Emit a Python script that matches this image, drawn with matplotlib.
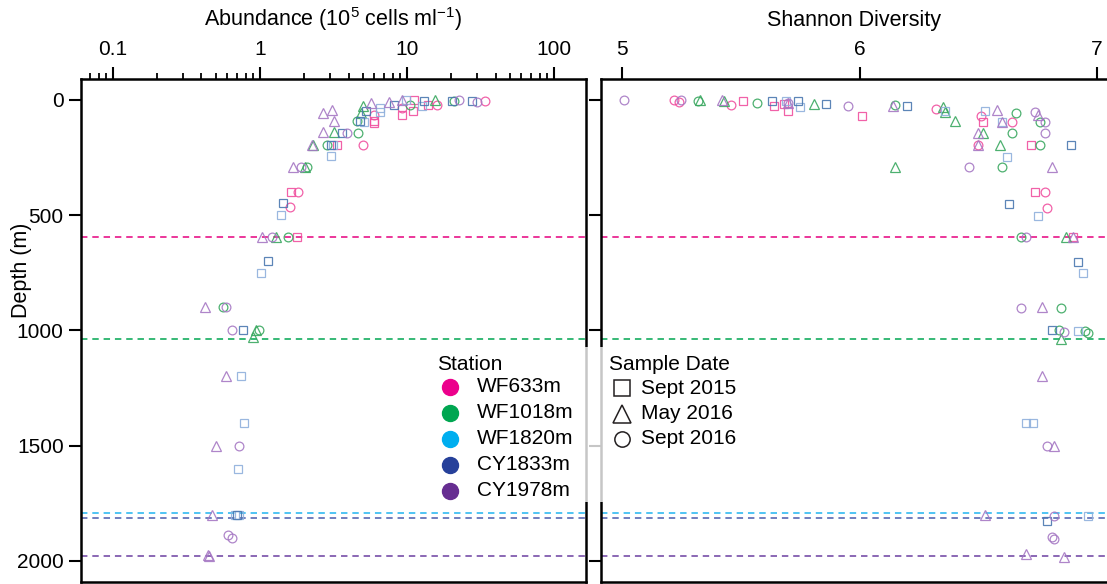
import matplotlib
matplotlib.use("Agg")
import numpy as np
import matplotlib.pyplot as plt
from matplotlib.lines import Line2D
from matplotlib.patches import Rectangle
from matplotlib.ticker import FixedLocator, LogLocator, NullFormatter

plt.rcParams['font.family'] = ['Liberation Sans', 'DejaVu Sans']
plt.rcParams['mathtext.fontset'] = 'custom'
plt.rcParams['mathtext.rm'] = 'Liberation Sans'
plt.rcParams['mathtext.it'] = 'Liberation Sans:italic'
plt.rcParams['mathtext.bf'] = 'Liberation Sans:bold'

# ---- stations and sampling dates ----
stations = ["WF633m", "WF1018m", "WF1820m", "CY1833m", "CY1978m"]
station_colors = ["#ec008c", "#00a651", "#00aeef", "#26409a", "#662d91"]
marker_colors = ["#f0509f", "#3aa860", "#8fb0dc", "#4a78b0", "#a678c4"]
line_colors = ["#e6007e", "#00a651", "#1fb4f0", "#4a5aab", "#6b3fa0"]
bottom_depth = [593, 1036, 1794, 1813, 1979]

dates = ["Sept 2015", "May 2016", "Sept 2016"]
date_markers = ["s", "^", "o"]
date_sizes = [6.0, 7.5, 6.3]

# ---- abundance profiles (10^5 cells per ml) ----
abund_station = [
    "CY1978m", "WF633m", "CY1833m", "WF1018m", "WF633m", "CY1833m", "WF1018m",
    "CY1978m", "CY1833m", "CY1978m", "WF633m", "WF1820m", "CY1978m", "CY1833m",
    "WF633m", "WF633m", "WF633m", "WF1820m", "WF633m", "WF1018m", "WF1018m",
    "CY1978m", "CY1833m", "WF1820m", "WF1820m", "WF633m", "WF1018m", "CY1833m",
    "WF1820m", "WF633m", "WF633m", "WF1018m", "CY1978m", "CY1978m", "CY1978m",
    "CY1978m", "WF1018m", "CY1833m", "CY1978m", "WF1018m",
    "CY1978m", "WF1018m", "WF1018m", "CY1833m", "WF1820m", "WF633m", "WF633m",
    "WF1820m", "CY1978m", "CY1978m", "WF1018m", "WF1018m",
    "WF633m", "WF633m", "CY1833m", "WF633m", "WF1820m",
    "CY1978m", "CY1978m", "WF1018m", "WF1018m", "WF633m",
    "CY1833m", "WF1820m", "CY1978m", "WF1018m", "CY1978m",
    "CY1978m", "CY1833m", "WF1018m", "WF1018m", "WF1018m",
    "CY1978m", "WF1820m", "WF1820m", "CY1978m", "CY1978m", "WF1820m",
    "CY1978m", "WF1820m", "CY1833m", "WF1820m", "CY1978m", "CY1978m",
    "CY1978m", "CY1978m",
]
abund_date = [
    "May 2016", "Sept 2015", "Sept 2015", "May 2016", "Sept 2016", "Sept 2015", "Sept 2016",
    "Sept 2016", "Sept 2015", "Sept 2016", "Sept 2016", "Sept 2015", "May 2016", "Sept 2015",
    "Sept 2016", "Sept 2015", "Sept 2015", "Sept 2015", "Sept 2015", "Sept 2016", "May 2016",
    "May 2016", "Sept 2015", "Sept 2015", "Sept 2015", "Sept 2016", "Sept 2016", "Sept 2015",
    "Sept 2015", "Sept 2015", "Sept 2015", "May 2016", "May 2016", "May 2016", "May 2016",
    "May 2016", "May 2016", "Sept 2015", "Sept 2016", "Sept 2016",
    "May 2016", "May 2016", "Sept 2016", "Sept 2015", "Sept 2015", "Sept 2015", "Sept 2016",
    "Sept 2015", "May 2016", "Sept 2016", "May 2016", "Sept 2016",
    "Sept 2015", "Sept 2016", "Sept 2015", "Sept 2016", "Sept 2015",
    "May 2016", "Sept 2016", "May 2016", "Sept 2016", "Sept 2015",
    "Sept 2015", "Sept 2015", "May 2016", "Sept 2016", "Sept 2016",
    "Sept 2016", "Sept 2015", "May 2016", "May 2016", "Sept 2016",
    "May 2016", "Sept 2015", "Sept 2015", "May 2016", "Sept 2016", "Sept 2015",
    "May 2016", "Sept 2015", "Sept 2015", "Sept 2015", "Sept 2016", "Sept 2016",
    "May 2016", "May 2016",
]
abund_depth = [
    0, 0, 4, 0, 20, 4, 4,
    0, 4, 9, 4, 0, 9, 22,
    35, 65, 48, 26, 22, 20, 26,
    13, 48, 35, 52, 65, 91, 91,
    95, 91, 100, 56, 56, 43, 91,
    139, 139, 143, 143, 143,
    195, 195, 195, 195, 195, 195, 195,
    243, 291, 291, 291, 291,
    399, 399, 447, 464, 499,
    595, 595, 595, 595, 595,
    699, 751, 898, 900, 900,
    998, 998, 998, 1029, 1000,
    1198, 1198, 1402, 1502, 1502, 1602,
    1801, 1801, 1801, 1801, 1888, 1901,
    1975, 1980,
]
abund_value = [
    9.3, 11.2, 13.1, 15.4, 16.1, 20.3, 20.8,
    22.7, 27.8, 30.1, 34.0, 9.9, 7.6, 8.2,
    9.3, 9.2, 10.9, 12.7, 13.8, 10.5, 5.0,
    5.7, 5.3, 6.5, 6.5, 6.0, 4.6, 4.8,
    5.1, 6.0, 6.0, 4.9, 2.67, 3.08, 3.17,
    2.67, 3.17, 3.60, 3.89, 4.62,
    2.25, 2.29, 2.85, 3.03, 3.12, 3.35, 5.0,
    3.03, 1.67, 1.90, 2.02, 2.08,
    1.62, 1.81, 1.43, 1.60, 1.39,
    1.03, 1.21, 1.28, 1.55, 1.78,
    1.13, 1.02, 0.42, 0.56, 0.59,
    0.65, 0.77, 0.94, 0.90, 0.98,
    0.59, 0.74, 0.78, 0.50, 0.72, 0.71,
    0.47, 0.68, 0.70, 0.72, 0.61, 0.64,
    0.44, 0.45,
]

# ---- Shannon diversity profiles ----
shannon_station = [
    "CY1978m", "WF633m", "WF633m", "CY1978m", "WF1018m", "WF1018m", "CY1978m",
    "WF1018m", "WF633m", "WF633m", "WF1018m", "CY1833m", "WF633m", "WF1820m",
    "WF633m", "CY1978m", "CY1978m", "WF633m", "CY1833m", "WF1820m", "WF1018m",
    "CY1833m", "CY1978m", "WF633m", "CY1978m", "WF1018m", "CY1833m", "WF633m",
    "WF1018m", "WF1018m", "WF1820m", "WF1018m", "WF633m", "WF633m", "WF1820m",
    "CY1978m", "WF1018m", "CY1978m", "CY1978m", "CY1978m", "WF1820m", "WF633m",
    "WF1018m", "CY1978m",
    "CY1978m", "WF1018m", "WF1018m", "CY1978m",
    "WF633m", "CY1978m", "WF1018m", "WF633m", "WF1018m", "CY1833m", "WF1820m",
    "WF1018m", "CY1978m", "WF1018m", "CY1978m",
    "WF633m", "WF633m", "CY1833m", "WF633m", "WF1820m",
    "WF1018m", "CY1978m", "WF1018m", "CY1978m", "WF633m",
    "CY1833m", "WF1820m",
    "CY1978m", "CY1978m", "WF1018m",
    "CY1833m", "WF1018m", "CY1978m", "WF1018m", "WF1820m", "WF1018m", "WF1018m",
    "CY1978m", "WF1820m", "WF1820m", "CY1978m", "CY1978m",
    "CY1978m", "CY1978m", "CY1833m", "WF1820m", "CY1978m", "CY1978m",
    "CY1978m", "CY1978m",
]
shannon_date = [
    "Sept 2016", "Sept 2016", "Sept 2016", "Sept 2016", "Sept 2016", "May 2016", "May 2016",
    "May 2016", "Sept 2016", "Sept 2015", "Sept 2016", "Sept 2015", "Sept 2015", "Sept 2015",
    "Sept 2015", "May 2016", "Sept 2016", "Sept 2015", "Sept 2015", "Sept 2015", "May 2016",
    "Sept 2015", "Sept 2016", "Sept 2015", "May 2016", "Sept 2016", "Sept 2015", "Sept 2016",
    "May 2016", "May 2016", "Sept 2015", "May 2016", "Sept 2016", "Sept 2015", "Sept 2015",
    "May 2016", "Sept 2016", "Sept 2016", "May 2016", "May 2016", "Sept 2015", "Sept 2016",
    "Sept 2016", "Sept 2016",
    "May 2016", "May 2016", "Sept 2016", "Sept 2016",
    "Sept 2016", "May 2016", "May 2016", "Sept 2015", "Sept 2016", "Sept 2015", "Sept 2015",
    "May 2016", "Sept 2016", "Sept 2016", "May 2016",
    "Sept 2015", "Sept 2016", "Sept 2015", "Sept 2016", "Sept 2015",
    "Sept 2016", "Sept 2016", "May 2016", "May 2016", "Sept 2015",
    "Sept 2015", "Sept 2015",
    "Sept 2016", "May 2016", "Sept 2016",
    "Sept 2015", "Sept 2016", "Sept 2016", "May 2016", "Sept 2015", "Sept 2016", "Sept 2016",
    "May 2016", "Sept 2015", "Sept 2015", "Sept 2016", "May 2016",
    "May 2016", "Sept 2016", "Sept 2015", "Sept 2015", "Sept 2016", "Sept 2016",
    "May 2016", "May 2016",
]
shannon_depth = [
    0, 0, 9, 0, 4, 0, 0,
    4, 22, 4, 13, 4, 26, 4,
    17, 13, 13, 48, 4, 30, 17,
    17, 26, 69, 26, 22, 26, 39,
    30, 52, 48, 91, 69, 95, 48,
    43, 56, 52, 65, 95, 95, 95,
    95, 95,
    143, 143, 143, 143,
    195, 195, 195, 195, 195, 195, 247,
    291, 291, 291, 291,
    399, 399, 451, 469, 503,
    595, 595, 595, 595, 595,
    703, 751,
    902, 898, 902,
    998, 998, 1007, 1037, 1002, 1002, 1010,
    1198, 1402, 1402, 1502, 1502,
    1801, 1805, 1827, 1805, 1897, 1905,
    1970, 1983,
]
shannon_value = [
    5.01, 5.22, 5.24, 5.25, 5.32, 5.33, 5.42,
    5.43, 5.46, 5.51, 5.57, 5.63, 5.64, 5.69,
    5.68, 5.70, 5.70, 5.70, 5.74, 5.75, 5.81,
    5.86, 5.95, 6.01, 6.14, 6.15, 6.20, 6.32,
    6.35, 6.36, 6.36, 6.40, 6.51, 6.52, 6.53,
    6.58, 6.66, 6.74, 6.75, 6.60, 6.60, 6.64,
    6.76, 6.78,
    6.50, 6.52, 6.64, 6.78,
    6.50, 6.50, 6.59, 6.72, 6.76, 6.89, 6.62,
    6.15, 6.46, 6.60, 6.81,
    6.74, 6.78, 6.63, 6.79, 6.75,
    6.68, 6.70, 6.87, 6.90, 6.90,
    6.92, 6.94,
    6.68, 6.77, 6.85,
    6.81, 6.84, 6.86, 6.85, 6.92, 6.95, 6.96,
    6.77, 6.70, 6.73, 6.79, 6.82,
    6.53, 6.82, 6.79, 6.96, 6.81, 6.82,
    6.70, 6.86,
]

# ---- figure layout (pixel geometry of a 1107 x 584 canvas) ----
W, H = 1107, 584
fig = plt.figure(figsize=(W / 100, H / 100), dpi=100)
ax1 = fig.add_axes([81 / W, 2 / H, 505 / W, 503 / H])
ax2 = fig.add_axes([601 / W, 2 / H, (W - 601) / W, 503 / H])

depth_lim = (2092, -91)


def draw_profiles(ax, st_list, dt_list, depth, value):
    st_arr = np.array(st_list)
    dt_arr = np.array(dt_list)
    depth = np.asarray(depth, float)
    value = np.asarray(value, float)
    for si, st in enumerate(stations):
        for di, dt in enumerate(dates):
            m = (st_arr == st) & (dt_arr == dt)
            if not m.any():
                continue
            ax.plot(value[m], depth[m], ls="none", marker=date_markers[di],
                    ms=date_sizes[di], mfc="none", mec=marker_colors[si],
                    mew=0.9, alpha=0.9, zorder=3)


def style_axis(ax):
    ax.set_ylim(*depth_lim)
    ax.xaxis.tick_top()
    ax.xaxis.set_label_position("top")
    ax.tick_params(axis="x", which="major", direction="out", length=8.5,
                   width=1.5, labelsize=15, pad=6, top=True, bottom=False)
    ax.tick_params(axis="x", which="minor", direction="out", length=4.5,
                   width=1.3, top=True, bottom=False)
    ax.tick_params(axis="y", which="major", direction="out", length=8.5,
                   width=1.5, labelsize=15, pad=4, left=True, right=False)
    for sp in ax.spines.values():
        sp.set_linewidth(1.8)
    for d, c in zip(bottom_depth, line_colors):
        ax.axhline(d, color=c, lw=1.1, ls=(0, (4.2, 3.2)), zorder=2)


# left panel: abundance on a log axis
ax1.set_xscale("log")
ax1.set_xlim(0.0606, 165)
style_axis(ax1)
ax1.xaxis.set_major_locator(FixedLocator([0.1, 1, 10, 100]))
ax1.set_xticklabels(["0.1", "1", "10", "100"])
ax1.xaxis.set_minor_locator(LogLocator(base=10, subs=np.arange(2, 10)))
ax1.xaxis.set_minor_formatter(NullFormatter())
ax1.set_yticks([0, 500, 1000, 1500, 2000])
ax1.set_xlabel("Abundance (10$^{5}$ cells ml$^{-1}$)", fontsize=15.5, labelpad=10)
ax1.set_ylabel("Depth (m)", fontsize=15.5)
ax1.yaxis.set_label_coords(-0.097, 0.62)
draw_profiles(ax1, abund_station, abund_date, abund_depth, abund_value)

# right panel: Shannon diversity
ax2.set_xlim(4.9116, 7.042)
style_axis(ax2)
ax2.set_xticks([5, 6, 7])
ax2.set_yticks([0, 500, 1000, 1500, 2000])
ax2.set_yticklabels([])
ax2.spines["right"].set_visible(False)
ax2.set_xlabel("Shannon Diversity", fontsize=15.5, labelpad=10)
draw_profiles(ax2, shannon_station, shannon_date, shannon_depth, shannon_value)

# translucent legend panel straddling the two axes
fig.add_artist(Rectangle((418 / W, 1 - 502 / H), (745 - 418) / W, (502 - 347) / H,
                         transform=fig.transFigure, fc="white", ec="none",
                         alpha=0.78, zorder=5))


def fx(px):
    return px / W


def fy(py):
    return 1 - py / H


fig.text(fx(437), fy(365), "Station", fontsize=15, va="center", ha="left", zorder=6)
for i, (name, col) in enumerate(zip(stations, station_colors)):
    yy = 387 + 26 * i
    fig.add_artist(Line2D([fx(450)], [fy(yy)], marker="o", ms=11.5, color=col,
                          ls="none", transform=fig.transFigure, zorder=6))
    fig.text(fx(477), fy(yy), name, fontsize=15, va="center", ha="left", zorder=6)

fig.text(fx(609), fy(365), "Sample Date", fontsize=15, va="center", ha="left", zorder=6)
legend_sizes = [11.0, 12.5, 11.0]
for i, (name, mk) in enumerate(zip(dates, date_markers)):
    yy = 388 + 25.5 * i
    fig.add_artist(Line2D([fx(622)], [fy(yy)], marker=mk, ms=legend_sizes[i], mfc="none",
                          mec="#231f20", mew=1.1, ls="none",
                          transform=fig.transFigure, zorder=6))
    fig.text(fx(641), fy(yy), name, fontsize=15, va="center", ha="left", zorder=6)

fig.savefig("out.png", dpi=100)
